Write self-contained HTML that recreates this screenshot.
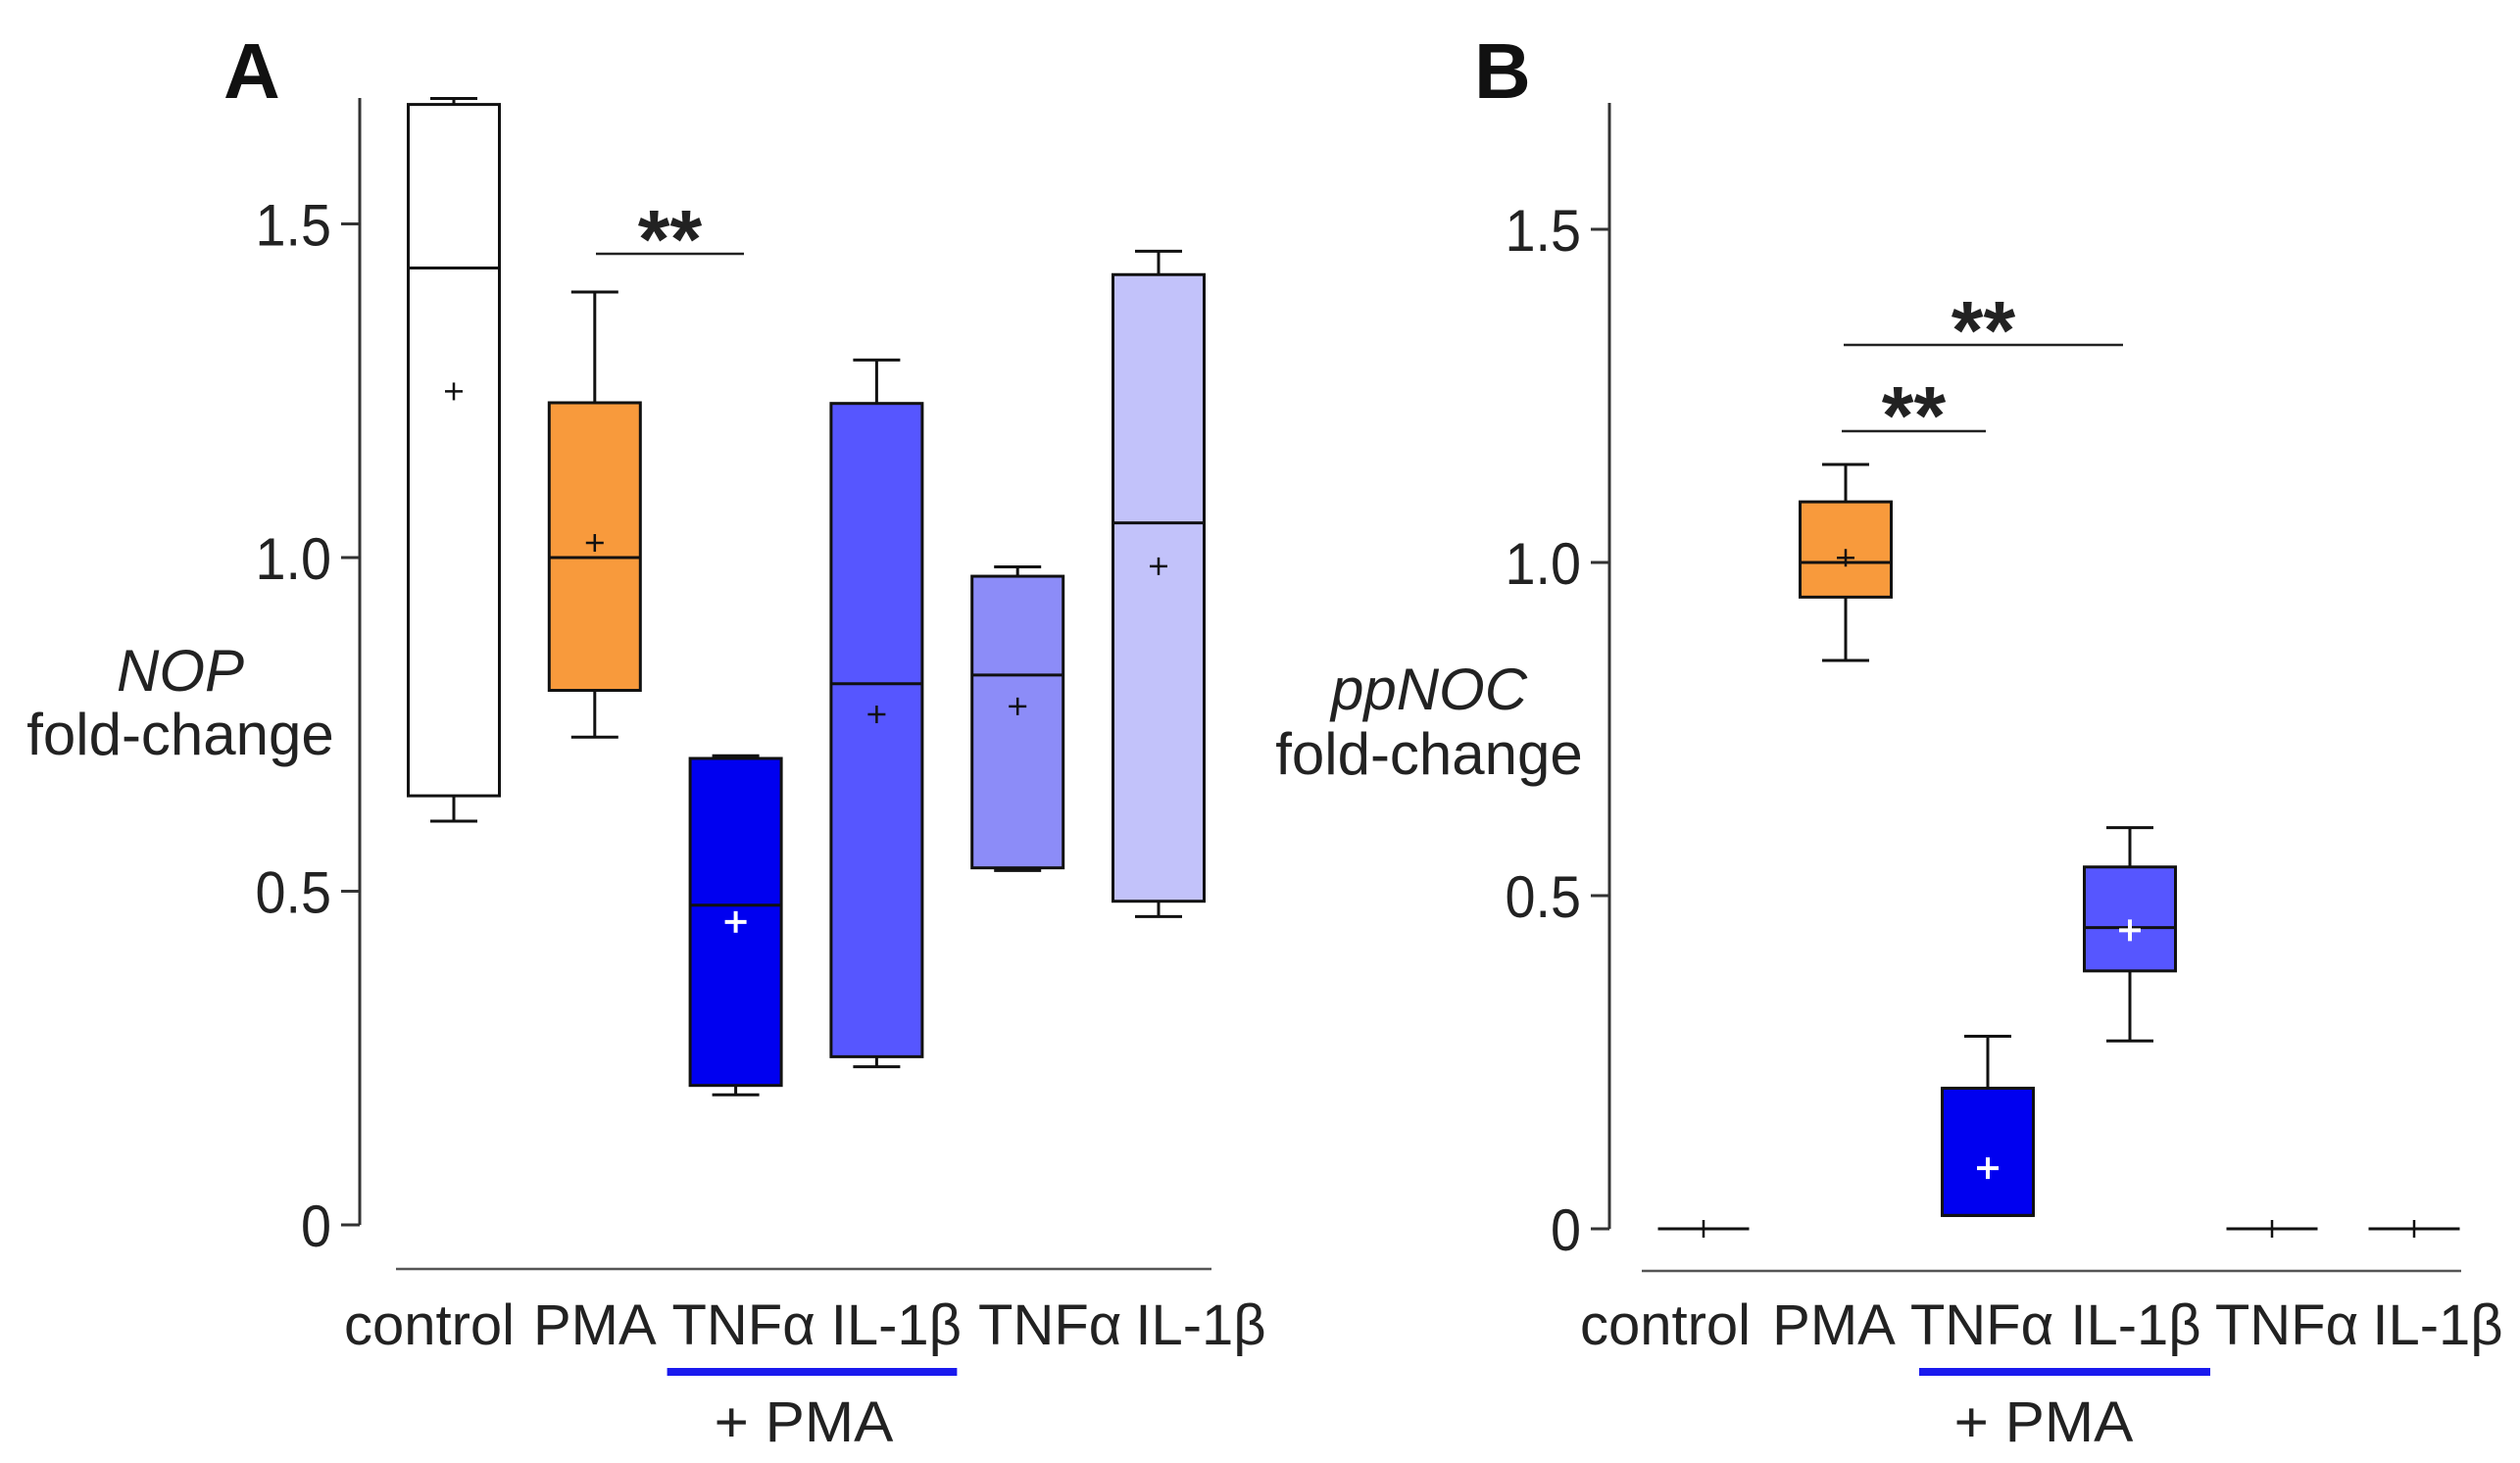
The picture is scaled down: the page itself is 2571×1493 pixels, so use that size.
<!DOCTYPE html>
<html><head><meta charset="utf-8"><style>
html,body{margin:0;padding:0;background:#fff;}
svg{display:block;font-family:"Liberation Sans",sans-serif;}
</style></head><body>
<svg id="chart" width="2571" height="1493" viewBox="0 0 2571 1493"></svg>
<script>
const categories = ["control","PMA","TNFα","IL-1β","TNFα","IL-1β"];
const yTicks = [0, 0.5, 1.0, 1.5];
const yTickLabels = ["0","0.5","1.0","1.5"];
const fills = ["#ffffff","#f89a3c","#0000f0","#5656ff","#8c8cf8","#c2c2fa"];
// panel A (NOP)
const nopLow    = [0.605,0.731,0.195,0.237,0.531,0.462];
const nopQ1     = [0.643,0.801,0.209,0.252,0.535,0.485];
const nopMedian = [1.434,1.000,0.479,0.811,0.824,1.052];
const nopQ3     = [1.679,1.232,0.699,1.231,0.972,1.424];
const nopHigh   = [1.688,1.398,0.703,1.296,0.986,1.459];
const nopMean   = [1.249,1.022,0.454,0.765,0.777,0.987];
// panel B (ppNOC)
const nocLow    = [0,0.853,0.020,0.282,0,0];
const nocQ1     = [0,0.948,0.020,0.387,0,0];
const nocMedian = [0,1.000,0.020,0.452,0,0];
const nocQ3     = [0,1.091,0.211,0.543,0,0];
const nocHigh   = [0,1.147,0.289,0.602,0,0];
const nocMean   = [0,1.007,0.091,0.448,0,0];

const NS="http://www.w3.org/2000/svg";
const svg=document.getElementById('chart');
function mk(tag,attrs,parent,text){const e=document.createElementNS(NS,tag);for(const k in attrs)e.setAttribute(k,attrs[k]);if(text!==undefined)e.textContent=text;(parent||svg).appendChild(e);return e;}

function panel(cfg){
  const g=mk('g',{});
  
  
  const y=v=>cfg.y0-cfg.k*v;
  const x=i=>cfg.x0+cfg.step*i;
  const ax=mk('line',{x1:cfg.axisX,y1:cfg.axisTop,x2:cfg.axisX,y2:y(0),stroke:'#333','stroke-width':3},g);
  
  
  yTicks.forEach((t,i)=>{
    const tk=mk('line',{x1:cfg.axisX-19,y1:y(t),x2:cfg.axisX,y2:y(t),stroke:'#333','stroke-width':3},g);
    
    
    const tl=mk('text',{transform:`translate(${cfg.axisX-29},${y(t)+22}) scale(0.93,1)`,'text-anchor':'end','font-size':60,fill:'#222'},g,yTickLabels[i]);
    
    
  });
  const bl=mk('line',{x1:cfg.baseX1,y1:cfg.baseY,x2:cfg.baseX2,y2:cfg.baseY,stroke:'#555','stroke-width':2.5},g);
  
  
  categories.forEach((c,i)=>{
    const cx=x(i), bw=93, cap=24;
    const d=cfg.data;
    const bg=mk('g',{},g);
    
    
    mk('line',{x1:cx,y1:y(d.high[i]),x2:cx,y2:y(d.q3[i]),stroke:'#111','stroke-width':3},bg);
    mk('line',{x1:cx-cap,y1:y(d.high[i]),x2:cx+cap,y2:y(d.high[i]),stroke:'#111','stroke-width':3},bg);
    mk('line',{x1:cx,y1:y(d.low[i]),x2:cx,y2:y(d.q1[i]),stroke:'#111','stroke-width':3},bg);
    mk('line',{x1:cx-cap,y1:y(d.low[i]),x2:cx+cap,y2:y(d.low[i]),stroke:'#111','stroke-width':3},bg);
    const h=Math.max(y(d.q1[i])-y(d.q3[i]),0);
    if(h>0) mk('rect',{x:cx-bw/2,y:y(d.q3[i]),width:bw,height:h,fill:fills[i],stroke:'#111','stroke-width':3},bg);
    mk('line',{x1:cx-bw/2,y1:y(d.median[i]),x2:cx+bw/2,y2:y(d.median[i]),stroke:'#111','stroke-width':3},bg);
    const mc=(i===2||(i===3&&cfg.whiteIL))?'#fff':'#111';
    const mw=mc==='#fff'?4:2.5, ms=mc==='#fff'?11:9;
    const my=y(d.mean[i]);
    mk('line',{x1:cx-ms,y1:my,x2:cx+ms,y2:my,stroke:mc,'stroke-width':mw},bg);
    mk('line',{x1:cx,y1:my-ms,x2:cx,y2:my+ms,stroke:mc,'stroke-width':mw},bg);
    const lab=mk('text',{transform:`translate(${cx+cfg.labOff[i]},${cfg.labY}) scale(1.0,1)`,'text-anchor':'middle','font-size':58,fill:'#222'},g,c);
    
    
  });
  const bb=mk('line',{x1:x(2)-70,y1:1400,x2:x(3)+82,y2:1400,stroke:'#1a1aee','stroke-width':8},g);
  
  
  const pm=mk('text',{transform:`translate(${cfg.pmaX},1471) scale(1.04,1)`,'text-anchor':'middle','font-size':58,fill:'#222'},g,'+ PMA');
  
  
  const t1=mk('text',{x:cfg.titleX,y:cfg.titleY1,'text-anchor':'middle','font-size':60,'font-style':'italic',fill:'#222'},g,cfg.gene);
  
  
  const t2=mk('text',{x:cfg.titleX,y:cfg.titleY2,'text-anchor':'middle','font-size':60,fill:'#222'},g,'fold-change');
  
  
  const pl=mk('text',{x:cfg.letterX,y:100,'font-size':80,'font-weight':'bold',fill:'#111'},g,cfg.letter);
  
  
  cfg.sig.forEach(s=>{
    const sl=mk('line',{x1:s[0],y1:s[2],x2:s[1],y2:s[2],stroke:'#222','stroke-width':2.5},g);
    
    
    const st=mk('text',{x:(s[0]+s[1])/2,y:s[3]+44,'text-anchor':'middle','font-size':84,'font-weight':'bold',fill:'#222'},g,'**');
    
    
  });
}
panel({name:'panel-a-nop',y0:1250,k:681,x0:463,step:143.8,labOff:[-25,0,8,20,33,43],pmaX:820,axisX:367,axisTop:100,baseX1:404,baseX2:1236,baseY:1295,labY:1372,
  titleX:184,titleY1:705,titleY2:770,gene:'NOP',letter:'A',letterX:228,whiteIL:false,
  sig:[[608,759,259,229]],
  data:{low:nopLow,q1:nopQ1,median:nopMedian,q3:nopQ3,high:nopHigh,mean:nopMean}});
panel({name:'panel-b-ppnoc',y0:1254,k:680,x0:1738,step:145,labOff:[-39,-12,-6,6,15,24],pmaX:2085,axisX:1642,axisTop:105,baseX1:1675,baseX2:2511,baseY:1297,labY:1372,
  titleX:1458,titleY1:724,titleY2:790,gene:'ppNOC',letter:'B',letterX:1504,whiteIL:true,
  sig:[[1879,2026,440,409],[1881,2166,352,322]],
  data:{low:nocLow,q1:nocQ1,median:nocMedian,q3:nocQ3,high:nocHigh,mean:nocMean}});
</script>
</body></html>
